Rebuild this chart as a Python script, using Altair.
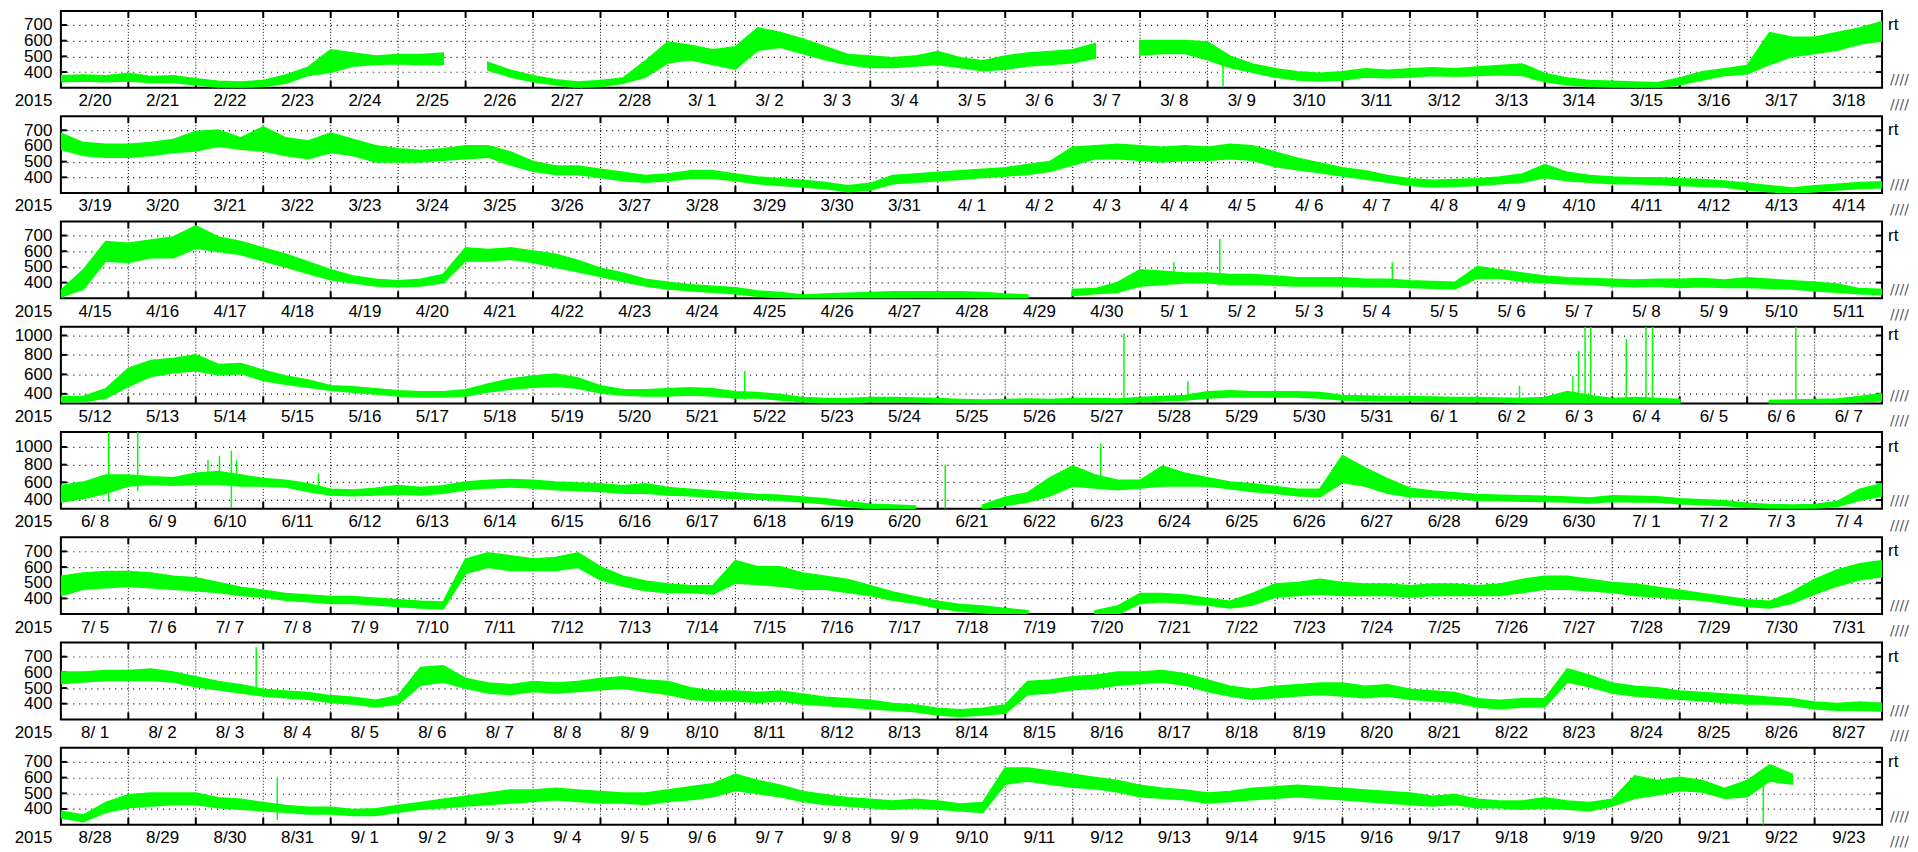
import altair as alt
import pandas as pd

# ---------------------------------------------------------------- data
ROW_STARTS = ["2015-02-20", "2015-03-19", "2015-04-15", "2015-05-12",
              "2015-06-08", "2015-07-05", "2015-08-01", "2015-08-28"]
YEAR_LABEL = "2015"
TICKS_LOW = [400, 500, 600, 700]
TICKS_HIGH = [400, 600, 800, 1000]
ROW_TICKS = [TICKS_LOW, TICKS_LOW, TICKS_LOW, TICKS_HIGH, TICKS_HIGH,
             TICKS_LOW, TICKS_LOW, TICKS_LOW]
Y_MIN = 300
ROW_YMAX = [790, 790, 790, 1090, 1170, 790, 790, 790]

# samples every 8 hours (00h, 08h, 16h of each day) + value at end; (low, high) of the trace
ROW1 = [(340, 375), (345, 380), (340, 375),
        (345, 390), (335, 370), (335, 375),
        (320, 355), (305, 340), (300, 335),
        (310, 345), (330, 380), (380, 430),
        (400, 540), (440, 520), (450, 500),
        (455, 510), (450, 510), (450, 520),
        None, (415, 460), (370, 410),
        (340, 375), (320, 350), (300, 335),
        (310, 345), (330, 360), (370, 470),
        (460, 590), (480, 570), (450, 540),
        (420, 560), (540, 680), (560, 650),
        (520, 610), (480, 560), (450, 510),
        (430, 500), (430, 490), (440, 500),
        (450, 530), (430, 490), (410, 470),
        (420, 500), (440, 520), (450, 530),
        (460, 540), (490, 580), None,
        (510, 600), (520, 600), (520, 600),
        (480, 590), (430, 500), (400, 450),
        (370, 420), (350, 400), (345, 390),
        (350, 400), (370, 420), (365, 410),
        (370, 420), (380, 425), (375, 420),
        (380, 430), (385, 440), (380, 450),
        (340, 390), (320, 360), (310, 345),
        (305, 340), (300, 335), (300, 330),
        (320, 360), (350, 400), (380, 420),
        (390, 440), (450, 650), (500, 620),
        (520, 620), (540, 650), (580, 680),
        (600, 720)]

ROW2 = [(580, 680), (540, 620), (530, 610),
        (530, 610), (540, 620), (560, 640),
        (570, 690), (600, 700), (580, 650),
        (570, 720), (540, 650), (520, 630),
        (560, 680), (540, 640), (500, 600),
        (500, 580), (500, 570), (510, 580),
        (520, 600), (530, 600), (480, 560),
        (440, 500), (420, 470), (420, 470),
        (400, 450), (380, 430), (370, 410),
        (380, 420), (395, 440), (395, 440),
        (380, 420), (360, 400), (350, 390),
        (340, 380), (330, 365), (310, 345),
        (320, 360), (360, 410), (370, 420),
        (380, 430), (390, 440), (400, 450),
        (410, 460), (420, 480), (440, 500),
        (480, 590), (520, 600), (520, 610),
        (510, 600), (500, 590), (510, 600),
        (510, 590), (520, 610), (510, 600),
        (470, 560), (450, 520), (430, 490),
        (410, 460), (390, 440), (370, 410),
        (350, 390), (340, 380), (345, 385),
        (350, 390), (360, 400), (370, 420),
        (400, 480), (380, 430), (370, 410),
        (360, 400), (360, 395), (355, 395),
        (350, 390), (345, 385), (340, 375),
        (320, 360), (310, 345), (300, 330),
        (310, 345), (320, 355), (330, 365),
        (335, 370)]

ROW3 = [(310, 350), (360, 480), (540, 660),
        (530, 650), (560, 670), (560, 690),
        (620, 760), (600, 690), (580, 660),
        (540, 620), (500, 580), (460, 530),
        (420, 480), (400, 440), (380, 420),
        (375, 410), (380, 420), (400, 450),
        (540, 620), (540, 610), (550, 620),
        (530, 600), (500, 580), (470, 540),
        (440, 490), (410, 460), (380, 420),
        (360, 400), (350, 385), (340, 375),
        (330, 365), (315, 345), (305, 335),
        (295, 320), (295, 325), (300, 330),
        (300, 335), (300, 340), (305, 340),
        (300, 340), (305, 340), (300, 335),
        (295, 325), (295, 320), None,
        (320, 355), (330, 360), (340, 400),
        (380, 480), (390, 470), (400, 460),
        (400, 460), (390, 450), (390, 450),
        (385, 440), (380, 430), (380, 430),
        (380, 430), (375, 420), (375, 420),
        (370, 410), (365, 405), (360, 400),
        (430, 500), (430, 480), (410, 460),
        (400, 440), (395, 430), (390, 425),
        (380, 420), (375, 415), (380, 420),
        (370, 420), (375, 425), (370, 415),
        (370, 430), (365, 420), (360, 410),
        (350, 400), (340, 390), (330, 360),
        (325, 355)]

ROW4 = [(320, 370), (320, 370), (360, 450),
        (480, 660), (580, 740), (620, 760),
        (640, 800), (600, 700), (610, 710),
        (540, 640), (500, 580), (470, 540),
        (440, 480), (420, 470), (400, 450),
        (380, 430), (370, 420), (370, 420),
        (380, 440), (420, 500), (450, 550),
        (470, 580), (480, 600), (460, 560),
        (410, 480), (390, 440), (380, 440),
        (380, 450), (390, 460), (380, 450),
        (360, 420), (360, 410), (340, 390),
        (320, 360), (310, 350), (310, 350),
        (320, 360), (320, 360), (320, 355),
        (310, 350), (305, 340), (300, 335),
        (300, 340), (305, 345), (300, 340),
        (305, 350), (305, 350), (305, 345),
        (320, 360), (330, 370), (340, 380),
        (360, 420), (370, 430), (370, 420),
        (370, 420), (370, 420), (360, 410),
        (340, 380), (335, 375), (330, 370),
        (330, 370), (325, 365), (320, 360),
        (320, 360), (320, 355), (310, 350),
        (300, 360), (300, 420), (300, 380),
        (300, 350), (300, 360), (300, 350),
        (300, 340), None, None,
        None, (300, 330), (305, 335),
        (305, 340), (310, 345), (320, 370),
        (330, 400)]

ROW5 = [(380, 560), (420, 600), (480, 680),
        (560, 680), (580, 660), (570, 650),
        (580, 700), (580, 720), (560, 680),
        (560, 640), (550, 620), (500, 580),
        (460, 520), (450, 510), (460, 530),
        (470, 560), (460, 540), (480, 560),
        (520, 600), (540, 620), (550, 630),
        (540, 620), (520, 600), (510, 590),
        (500, 580), (480, 560), (480, 580),
        (460, 540), (450, 520), (430, 500),
        (420, 480), (410, 460), (400, 450),
        (380, 430), (360, 410), (330, 380),
        (300, 350), (300, 340), (300, 330),
        None, None, (300, 340),
        (340, 430), (380, 480), (450, 650),
        (560, 780), (540, 680), (520, 620),
        (540, 620), (560, 780), (560, 700),
        (560, 650), (530, 600), (500, 580),
        (480, 550), (450, 520), (440, 520),
        (600, 900), (560, 760), (480, 640),
        (440, 530), (430, 500), (420, 480),
        (400, 460), (400, 450), (390, 445),
        (385, 440), (380, 430), (370, 420),
        (385, 445), (380, 440), (380, 435),
        (360, 410), (350, 400), (340, 390),
        (320, 360), (310, 345), (305, 340),
        (310, 345), (330, 380), (400, 520),
        (450, 580)]

ROW6 = [(420, 540), (460, 560), (470, 570),
        (480, 570), (470, 560), (460, 540),
        (450, 530), (440, 500), (420, 470),
        (410, 450), (390, 430), (380, 420),
        (370, 410), (370, 410), (360, 400),
        (350, 390), (340, 380), (335, 375),
        (560, 650), (600, 690), (580, 670),
        (580, 650), (580, 660), (600, 690),
        (520, 600), (480, 540), (450, 510),
        (440, 490), (440, 480), (430, 480),
        (500, 640), (490, 600), (480, 600),
        (460, 560), (460, 540), (440, 520),
        (420, 480), (390, 440), (370, 410),
        (340, 380), (320, 360), (310, 350),
        (300, 335), (300, 320), None,
        None, (300, 320), (300, 350),
        (370, 430), (380, 430), (370, 420),
        (360, 400), (340, 380), (360, 430),
        (410, 490), (420, 500), (430, 520),
        (420, 500), (420, 490), (420, 490),
        (410, 480), (420, 490), (420, 490),
        (420, 480), (420, 490), (440, 520),
        (460, 540), (460, 540), (450, 520),
        (440, 500), (420, 490), (410, 470),
        (400, 450), (390, 430), (370, 410),
        (350, 390), (340, 380), (370, 440),
        (430, 520), (480, 580), (520, 620),
        (540, 640)]

ROW7 = [(530, 600), (540, 600), (550, 610),
        (550, 610), (550, 620), (540, 600),
        (510, 570), (490, 540), (470, 520),
        (450, 490), (440, 480), (430, 470),
        (410, 450), (400, 440), (380, 420),
        (400, 450), (520, 630), (540, 640),
        (500, 560), (470, 530), (460, 520),
        (480, 540), (470, 530), (480, 540),
        (490, 560), (500, 570), (480, 550),
        (460, 540), (430, 500), (420, 480),
        (420, 480), (410, 470), (420, 480),
        (400, 460), (390, 440), (380, 430),
        (370, 420), (360, 400), (350, 390),
        (330, 370), (320, 360), (330, 370),
        (340, 390), (460, 540), (470, 550),
        (490, 570), (500, 580), (520, 600),
        (530, 600), (540, 610), (520, 590),
        (480, 550), (450, 510), (430, 490),
        (440, 510), (450, 520), (460, 530),
        (450, 530), (440, 510), (450, 520),
        (430, 490), (420, 480), (410, 470),
        (380, 430), (370, 420), (380, 430),
        (380, 430), (540, 620), (510, 580),
        (470, 530), (450, 510), (440, 500),
        (430, 480), (420, 470), (410, 460),
        (400, 450), (400, 440), (390, 430),
        (370, 410), (360, 400), (360, 410),
        (355, 400)]

ROW8 = [(345, 385), (320, 360), (380, 440),
        (410, 490), (420, 500), (430, 500),
        (430, 500), (410, 470), (400, 460),
        (390, 440), (380, 420), (370, 410),
        (370, 410), (360, 395), (360, 400),
        (380, 420), (400, 440), (410, 460),
        (420, 480), (430, 500), (440, 520),
        (450, 520), (460, 530), (450, 520),
        (440, 510), (440, 500), (430, 500),
        (450, 520), (460, 540), (480, 560),
        (520, 620), (500, 580), (480, 550),
        (450, 510), (430, 490), (420, 470),
        (410, 460), (400, 450), (410, 460),
        (400, 450), (390, 430), (380, 440),
        (560, 660), (580, 660), (560, 640),
        (540, 620), (530, 600), (510, 580),
        (480, 550), (470, 530), (460, 520),
        (440, 500), (450, 510), (460, 530),
        (470, 540), (480, 550), (470, 540),
        (460, 530), (450, 520), (440, 510),
        (430, 500), (420, 480), (430, 490),
        (410, 460), (410, 450), (400, 450),
        (410, 470), (400, 450), (390, 440),
        (420, 460), (470, 610), (490, 580),
        (520, 600), (510, 580), (470, 530),
        (480, 580), (580, 680), (560, 620),
        None, None, None,
        None]

ROWS = [ROW1, ROW2, ROW3, ROW4, ROW5, ROW6, ROW7, ROW8]

# isolated spikes: row index, time, low, high
SPIKE_ROW = [0, 2, 2, 2, 3, 3, 3, 3, 3, 3, 3, 3, 3, 3, 3, 3,
             4, 4, 4, 4, 4, 4, 4, 4, 4, 6, 7, 7]
SPIKE_TIME = ["2015-03-09 05:30", "2015-05-01 12:00", "2015-05-02 04:20", "2015-05-04 17:45",
              "2015-05-22 03:20", "2015-05-27 18:15", "2015-05-28 17:00", "2015-06-02 15:00",
              "2015-06-03 10:00", "2015-06-03 12:00", "2015-06-03 14:20", "2015-06-03 16:20",
              "2015-06-04 05:00", "2015-06-04 12:00", "2015-06-04 14:20", "2015-06-06 17:20",
              "2015-06-08 17:00", "2015-06-09 03:20", "2015-06-10 04:20", "2015-06-10 08:25",
              "2015-06-10 12:40", "2015-06-10 14:30", "2015-06-11 19:40", "2015-06-21 02:40",
              "2015-06-23 10:00", "2015-08-03 21:30", "2015-08-31 05:00", "2015-09-22 05:45"]
SPIKE_LOW = [310, 400, 380, 400, 340, 310, 330, 320, 300, 300, 300, 300, 300, 300, 300, 300,
             380, 500, 600, 600, 310, 600, 550, 300, 600, 480, 330, 300]
SPIKE_HIGH = [450, 530, 680, 530, 635, 1020, 530, 480, 580, 840, 1090, 1090, 960, 1090, 1090, 1090,
              1170, 1170, 850, 900, 960, 850, 700, 800, 1040, 760, 600, 580]

# ---------------------------------------------------------------- layout
W, H = 1825, 77
GREEN = "#00ff00"
FONT = "Liberation Sans"
IS_YEAR = "hours(datum.value) == 0"


def dtobj(ts):
    return alt.DateTime(year=int(ts.year), month=int(ts.month), date=int(ts.day),
                        hours=int(ts.hour), minutes=int(ts.minute))


def panel(i):
    start = pd.Timestamp(ROW_STARTS[i])
    end = start + pd.Timedelta(days=27)
    ticks = ROW_TICKS[i]
    xscale = alt.Scale(domain=[dtobj(start), dtobj(end)])
    yscale = alt.Scale(domain=[Y_MIN, ROW_YMAX[i]], nice=False, zero=False)

    recs, seg = [], 0
    for k, v in enumerate(ROWS[i]):
        if v is None:
            seg += 1
            continue
        recs.append({"t": start + pd.Timedelta(hours=8 * k), "lo": v[0], "hi": v[1], "seg": seg})
    band_df = pd.DataFrame(recs)

    sp = [(pd.Timestamp(t), lo, hi) for r, t, lo, hi in
          zip(SPIKE_ROW, SPIKE_TIME, SPIKE_LOW, SPIKE_HIGH) if r == i]
    spike_df = pd.DataFrame(sp, columns=["t", "lo", "hi"])

    midn = pd.DataFrame({"t": [start + pd.Timedelta(days=d) for d in range(1, 27)]})
    # the year is drawn as an extra axis label at the left edge of each strip
    xvals = [dtobj(start)] + [dtobj(start + pd.Timedelta(days=d, hours=12)) for d in range(27)]
    ytk = pd.DataFrame({"lo": ticks})

    xaxis = alt.Axis(values=xvals, format="%-m/%e", labelAngle=0, ticks=False, domain=False,
                     grid=False, labelPadding=5, labelOverlap=False, labelFlush=False,
                     labelExpr=IS_YEAR + " ? '" + YEAR_LABEL + "' : datum.label",
                     labelAlign={"condition": {"test": IS_YEAR, "value": "right"},
                                 "value": "center"},
                     labelOffset={"condition": {"test": IS_YEAR, "value": -9}, "value": 0},
                     labelFontSize=17, labelFont=FONT, labelColor="black", title=None)
    yaxis = alt.Axis(values=ticks, format="d", grid=True, gridDash=[1, 5], gridColor="black",
                     gridWidth=1.2, ticks=False, domain=False, labelPadding=9,
                     labelOverlap=False, labelFlush=False,
                     labelFontSize=17, labelFont=FONT, labelColor="black", title=None)

    X = alt.X("t:T", scale=xscale, axis=xaxis)
    Y = alt.Y("lo:Q", scale=yscale, axis=yaxis)

    vgrid = alt.Chart(midn).mark_rule(color="black", strokeDash=[1, 2], strokeWidth=1).encode(
        x=X, y=alt.value(0), y2=alt.value(H))
    tick_top = alt.Chart(midn).mark_rule(color="black", strokeWidth=2).encode(
        x=X, y=alt.value(0), y2=alt.value(7))
    tick_bot = alt.Chart(midn).mark_rule(color="black", strokeWidth=2).encode(
        x=X, y=alt.value(H - 7), y2=alt.value(H))
    ytick_l = alt.Chart(ytk).mark_rule(color="black", strokeWidth=2).encode(
        y=Y, x=alt.value(0), x2=alt.value(6))
    ytick_r = alt.Chart(ytk).mark_rule(color="black", strokeWidth=2).encode(
        y=Y, x=alt.value(W - 6), x2=alt.value(W))

    band = alt.Chart(band_df).mark_area(color=GREEN, opacity=1, clip=True, stroke=GREEN,
                                        strokeWidth=2, interpolate="linear").encode(
        x=X, y=Y, y2="hi:Q", detail="seg:N")
    layers = [vgrid, tick_top, tick_bot, ytick_l, ytick_r, band]
    if len(spike_df):
        spikes = alt.Chart(spike_df).mark_rule(color=GREEN, strokeWidth=1.5, clip=True).encode(
            x=X, y=Y, y2="hi:Q")
        layers.append(spikes)

    one = pd.DataFrame({"lo": [ticks[-1]]})
    rt = alt.Chart(one).mark_text(text="rt", align="left", baseline="middle", fontSize=17,
                                  font=FONT, color="black").encode(
        x=alt.value(W + 6), y=Y)
    grip1 = alt.Chart(one).mark_text(text="////", align="left", baseline="bottom", fontSize=14,
                                     font="DejaVu Sans", color="#555").encode(
        x=alt.value(W + 8), y=alt.value(H - 1))
    grip2 = alt.Chart(one).mark_text(text="////", align="left", baseline="bottom", fontSize=14,
                                     font="DejaVu Sans", color="#555").encode(
        x=alt.value(W + 8), y=alt.value(H + 24))
    layers += [rt, grip1, grip2]
    return alt.layer(*layers).properties(width=W, height=H)


chart = alt.vconcat(*[panel(i) for i in range(8)], spacing=1.5).properties(
    padding={"left": 5, "top": 0, "right": 0, "bottom": 0}
).configure_view(stroke="black", strokeWidth=2).configure_concat(spacing=1.5)

chart.save("out.html", embed_options={"renderer": "svg", "actions": False})
